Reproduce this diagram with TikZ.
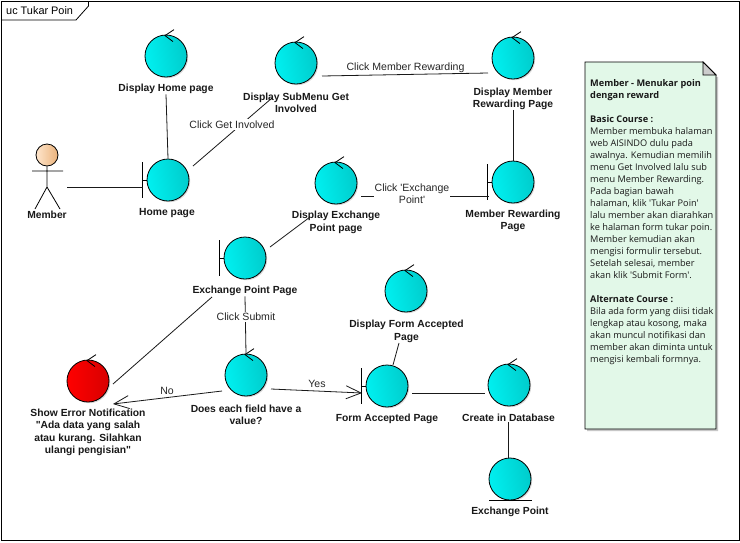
\documentclass[tikz,border=0pt]{standalone}
\usepackage{fontspec}
\setmainfont{Open Sans}[Ligatures=TeXOff]
\newfontfamily\labfont{Liberation Sans}[Ligatures=TeXOff]
\usetikzlibrary{arrows.meta,shadings,shadows,calc}
\definecolor{cy}{HTML}{00CCCC}
\definecolor{cyl}{HTML}{00F0F0}
\definecolor{rd}{HTML}{D80000}
\definecolor{notefill}{HTML}{E2F8E8}
\tikzset{
 x=1pt,y=-1pt,
 robust/.style={circle,draw=black,line width=.8pt,minimum size=42pt,inner sep=0pt,left color=cyl,right color=cy,shading angle=100,drop shadow={shadow xshift=1.2pt,shadow yshift=-1.2pt,fill=black!30,opacity=.5}},
 redrobust/.style={robust,left color=red,right color=rd},
 lab/.style={font=\labfont\bfseries\fontsize{10.3}{12.2}\selectfont,align=center,inner sep=0pt,text=black!90,yshift=-.8pt},
 elab/.style={font=\labfont\fontsize{10.55}{12.3}\selectfont,align=center,inner sep=1.5pt,text=black!85},
 conn/.style={line width=.8pt,draw=black!90},
 open/.style={conn,-{Straight Barb[length=15pt,width=13pt,line width=.8pt]}},
 barstyle/.style={line width=.8pt},
}
\newcommand{\ctrlmark}[1]{\draw[barstyle] ($(#1.north)+(8,-5)$) -- ($(#1.north)+(-1,1)$) -- ($(#1.north)+(7,7)$);}
\newcommand{\bndbar}[1]{\draw[barstyle] ($(#1.west)+(-4,-18)$) -- ($(#1.west)+(-4,18)$) ($(#1.west)+(-4,0)$) -- (#1.west);}
\begin{document}
\begin{tikzpicture}
\useasboundingbox (0,0) rectangle (740,542);
\fill[white] (0,0) rectangle (740,542);
\draw[line width=1pt] (1.5,1.5) rectangle (739,540);
\draw[line width=.8pt] (1.5,20) -- (76,20) -- (88.5,6) -- (88.5,1.5);
\node[anchor=west,font=\labfont\fontsize{10.9}{12}\selectfont,inner sep=0pt] (title) at (6,10.5) {uc Tukar Poin};

% circles
\node[robust] (dh) at (166,56) {};
\node[robust] (ds) at (296,63) {};
\node[robust] (dm) at (513,58) {};
\node[robust] (hp) at (168,180) {};
\node[robust] (de) at (336,183) {};
\node[robust] (mr) at (513,182) {};
\node[robust] (ep) at (245,258) {};
\node[robust] (df) at (406,291) {};
\node[redrobust] (er) at (88,381) {};
\node[robust] (dv) at (246,375) {};
\node[robust] (fa) at (387,386) {};
\node[robust] (cd) at (509,385) {};
\node[robust] (xp) at (510,479) {};

\foreach \n in {dh,ds,dm,de,df,er,dv,cd} {\ctrlmark{\n}}
\foreach \n in {hp,mr,ep,fa} {\bndbar{\n}}
\draw[barstyle] ($(xp.south)+(-21,0)$) -- ($(xp.south)+(22,0)$);

% labels
\node[lab] (ldh) at (166,88.5) {Display Home page};
\node[lab] (lds) at (296,102) {Display SubMenu Get\\Involved};
\node[lab] (ldm) at (513,98) {Display Member\\Rewarding Page};
\node[lab] (lhp) at (167,212.5) {Home page};
\node[lab] (lde) at (336,221.5) {Display Exchange\\Point page};
\node[lab] (lmr) at (513,220) {Member Rewarding\\Page};
\node[lab] (lep) at (245,290.5) {Exchange Point Page};
\node[lab] (ldf) at (406.5,330.5) {Display Form Accepted\\Page};
\node[lab] (ler) at (88,431.5) {Show Error Notification\\"Ada data yang salah\\atau kurang. Silahkan\\ulangi pengisian"};
\node[lab] (ldv) at (246,414) {Does each field have a\\value?};
\node[lab] (lfa) at (387,418.5) {Form Accepted Page};
\node[lab] (lcd) at (508.5,417.5) {Create in Database};
\node[lab] (lxp) at (510,511.5) {Exchange Point};

% actor
\node[circle,draw=black,line width=.8pt,minimum size=22pt,inner sep=0pt,left color=orange!20,right color=orange!45!brown!60!white] (actor) at (47,155) {};
\draw[barstyle] (actor.south) -- (47,187) (32,171) -- (63,171) (35,209) -- (47,187) -- (60,209);
\node[lab] (lac) at (47,214.5) {Member};

% connectors
\coordinate (a1) at (67,187);
\coordinate (a2) at (143,187);
\draw[conn] (a1) -- (a2);
\draw[conn] (hp.north) -- (ldh.south);
\coordinate (b1) at (193,166);
\coordinate (b2) at (272,98);
\draw[conn] (b1) -- (b2);
\node[elab,fill=white] (lb) at (232,124.5) {Click Get Involved};
\coordinate (c1) at (322,76);
\coordinate (c2) at (488,73);
\draw[conn] (c1) -- (c2);
\node[elab] (lc) at (405.5,67.5) {Click Member Rewarding};
\draw[conn] (ldm.south) -- (mr.north);
\coordinate (d1) at (361,196);
\coordinate (d2) at (489,196);
\draw[conn] (d1) -- (d2);
\node[elab,fill=white,inner sep=1pt] (ld) at (412,194) {Click 'Exchange\\Point'};
\coordinate (e1) at (270,247);
\coordinate (e2) at (310,217);
\draw[conn] (e1) -- (e2);
\draw[conn] (lep.south) -- (dv.north);
\node[elab,fill=white] (le) at (246,317) {Click Submit};
\coordinate (f1) at (212,297);
\coordinate (f2) at (113,384);
\draw[conn] (f1) -- (f2);
\coordinate (g1) at (222,391);
\coordinate (g2) at (113,404);
\draw[open] (g1) -- (g2);
\node[elab] (lg) at (167,391) {No};
\coordinate (h1) at (271,389);
\coordinate (h2) at (362,393);
\draw[open] (h1) -- (h2);
\node[elab] (lh) at (317,383.5) {Yes};
\coordinate (i1) at (393,365);
\coordinate (i2) at (399,343);
\draw[conn] (i1) -- (i2);
\coordinate (j1) at (412,393);
\coordinate (j2) at (485,393);
\draw[conn] (j1) -- (j2);
\draw[conn] (lcd.south) -- (lcd.south |- xp.north);

% note
\fill[black!22] (587,64) -- (718,77) -- (718,431) -- (587,431) -- cycle;
\fill[notefill] (585,62) -- (703,62) -- (716,75) -- (716,429) -- (585,429) -- cycle;
\draw[line width=.8pt] (585,429) -- (585,62) -- (703,62) -- (716,75) -- (716,429) -- cycle;
\filldraw[fill=black!20,line width=.8pt] (703,62) -- (716,75) -- (703,75) -- cycle;
\node[anchor=north west,inner sep=0pt,align=left,font=\fontsize{9.2}{12}\selectfont,text=black!90] (note) at (590,79.5) {\textbf{Member - Menukar poin}\\\textbf{dengan reward}\\[12pt]\textbf{Basic Course :}\\Member membuka halaman\\web AISINDO dulu pada\\awalnya. Kemudian memilih\\menu Get Involved lalu sub\\menu Member Rewarding.\\Pada bagian bawah\\halaman, klik 'Tukar Poin'\\lalu member akan diarahkan\\ke halaman form tukar poin.\\Member kemudian akan\\mengisi formulir tersebut.\\Setelah selesai, member\\akan klik 'Submit Form'.\\[12pt]\textbf{Alternate Course :}\\Bila ada form yang diisi tidak\\lengkap atau kosong, maka\\akan muncul notifikasi dan\\member akan diminta untuk\\mengisi kembali formnya.};
\end{tikzpicture}
\end{document}
